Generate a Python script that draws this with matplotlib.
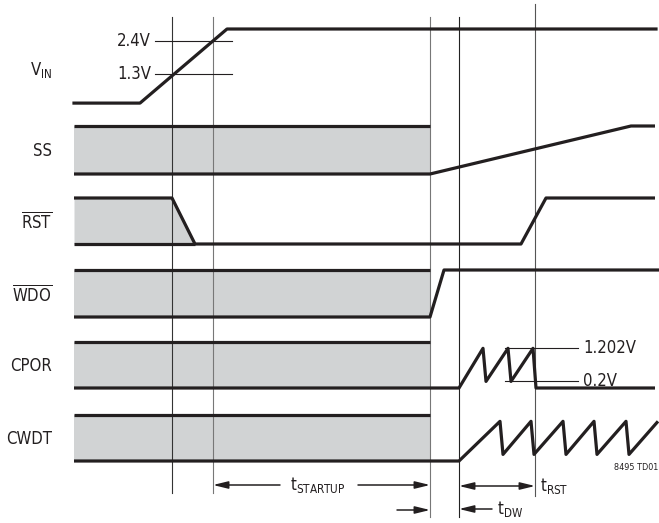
import numpy as np
import matplotlib.pyplot as plt
from matplotlib import font_manager

# pick a narrow sans if one is installed
fonts = font_manager.fontManager.ttflist
names = {f.name for f in fonts}
if 'Liberation Sans Narrow' in names:
    fam, stretch = 'Liberation Sans Narrow', 'normal'
elif any(f.name == 'DejaVu Sans' and f.stretch in ('condensed', 'semi-condensed') for f in fonts):
    fam, stretch = 'DejaVu Sans', 'condensed'
else:
    fam, stretch = 'Liberation Sans', 'normal'
plt.rcParams['font.family'] = [fam, 'DejaVu Sans']
plt.rcParams['font.stretch'] = stretch
plt.rcParams['mathtext.fontset'] = 'custom'
plt.rcParams['mathtext.rm'] = f'{fam}:stretch={stretch}'
plt.rcParams['mathtext.it'] = f'{fam}:stretch={stretch}'

# waveform data (time in arbitrary units, levels in V or normalised 0..1)
t_start = 74          # left edge of every trace
t_por = 430           # end of the undefined (grey) region
t_events = [172, 213, 430, 459, 535]

t_vin = [74, 140, 227, 656]
v_vin = [0.33, 0.33, 2.8, 2.8]
vin_marks = [2.4, 1.3]
vin_mark_labels = ['2.4V', '1.3V']

t_ss = [430, 631, 655]
v_ss = [0, 1, 1]

t_rst = [74, 172, 195, 521, 546, 655]
v_rst = [1, 1, 0, 0, 1, 1]

t_wdo = [430, 444, 659]
v_wdo = [0, 1, 1]

t_cpor = [430, 459, 483, 486, 508, 511, 533, 536, 655]
v_cpor = [0, 0, 1.202, 0.2, 1.202, 0.2, 1.202, 0, 0]
cpor_marks = [1.202, 0.2]
cpor_mark_labels = ['1.202V', '0.2V']

t_cwdt = [430, 459, 500, 503, 531, 534, 563, 566, 594, 597, 626, 629, 658]
v_cwdt = [0, 0, 1.202, 0.2, 1.202, 0.2, 1.202, 0.2, 1.202, 0.2, 1.202, 0.2, 1.202]

# layout: zero-level y, pixels per unit, high level of grey box
rows = {
    'VIN':  dict(base=113, scale=30, high=None),
    'SS':   dict(base=174, scale=48, high=1),
    'RST':  dict(base=244, scale=46, high=1),
    'WDO':  dict(base=317, scale=47, high=1),
    'CPOR': dict(base=388, scale=33, high=1.4),
    'CWDT': dict(base=461, scale=33, high=1.4),
}
labels = {
    'VIN': r'$\mathrm{V_{IN}}$',
    'SS': 'SS',
    'RST': r'$\overline{\mathrm{RST}}$',
    'WDO': r'$\overline{\mathrm{WDO}}$',
    'CPOR': 'CPOR',
    'CWDT': 'CWDT',
}

ink = '#231f20'
grey = '#d1d3d4'
lw_trace = 2.3
lw_thin = 0.8
fs = 12


def ypos(row, v):
    r = rows[row]
    return r['base'] - np.asarray(v, dtype=float) * r['scale']


fig = plt.figure(figsize=(6.59, 5.23), dpi=100)
ax = fig.add_axes([0, 0, 1, 1])
ax.set_xlim(0, 659)
ax.set_ylim(523, 0)
ax.axis('off')

# event markers
vline_ext = [(17, 493, '#333333'), (17, 493, '#777777'), (17, 517, '#777777'),
             (17, 517, '#222222'), (4, 496, '#555555')]
for t, (y0, y1, c) in zip(t_events, vline_ext):
    ax.plot([t, t], [y0, y1], color=c, lw=lw_thin, zorder=2)

# row labels
for name, txt in labels.items():
    r = rows[name]
    if name == 'VIN':
        yc = 70
    else:
        yc = r['base'] - r['high'] * r['scale'] / 2 + 1
    ax.text(52, yc, txt, ha='right', va='center', fontsize=fs, color=ink)

# VIN
ax.plot(t_vin, ypos('VIN', v_vin), color=ink, lw=lw_trace, zorder=3)
for v, lab in zip(vin_marks, vin_mark_labels):
    ax.plot([155, 232], [ypos('VIN', v)] * 2, color=ink, lw=lw_thin, zorder=2)
    ax.text(151, ypos('VIN', v), lab, ha='right', va='center', fontsize=fs, color=ink)

# rows with an undefined region before t_por
for name, tt, vv in [('SS', t_ss, v_ss), ('WDO', t_wdo, v_wdo),
                     ('CPOR', t_cpor, v_cpor), ('CWDT', t_cwdt, v_cwdt)]:
    hi = rows[name]['high']
    ax.fill_between([t_start, t_por], ypos(name, 0), ypos(name, hi),
                    color=grey, lw=0, zorder=1)
    ax.plot([t_start, t_por], [ypos(name, hi)] * 2, color=ink, lw=lw_trace,
            solid_capstyle='butt', zorder=3)
    ax.plot([t_start] + tt, ypos(name, [0] + vv), color=ink, lw=lw_trace,
            solid_capstyle='butt', zorder=3)

# RST
ax.fill_between(t_rst[:3], ypos('RST', 0), ypos('RST', v_rst[:3]),
                color=grey, lw=0, zorder=1)
ax.plot([t_start, t_rst[2]], [ypos('RST', 0)] * 2, color=ink, lw=lw_trace,
        solid_capstyle='butt', zorder=3)
ax.plot(t_rst, ypos('RST', v_rst), color=ink, lw=lw_trace,
        solid_capstyle='butt', zorder=3)

# CPOR thresholds
for v, lab in zip(cpor_marks, cpor_mark_labels):
    ax.plot([505, 578], [ypos('CPOR', v)] * 2, color=ink, lw=lw_thin, zorder=2)
    ax.text(583, ypos('CPOR', v), lab, ha='left', va='center', fontsize=fs, color=ink)

# timing arrows
arr = dict(arrowstyle='-|>,head_length=0.9,head_width=0.22', color=ink, lw=1.1,
           shrinkA=0, shrinkB=0)
arr2 = dict(arrowstyle='<|-|>,head_length=0.9,head_width=0.22', color=ink, lw=1.1,
            shrinkA=0, shrinkB=0)
ax.annotate('', xy=(t_events[1], 485), xytext=(280, 485), arrowprops=arr)
ax.annotate('', xy=(t_por, 485), xytext=(358, 485), arrowprops=arr)
ax.text(318, 485, r'$\mathrm{t_{STARTUP}}$', ha='center', va='center', fontsize=fs, color=ink)
ax.annotate('', xy=(t_por, 510), xytext=(397, 510), arrowprops=arr)

ax.annotate('', xy=(t_events[3], 486), xytext=(t_events[4], 486), arrowprops=arr2)
ax.text(540, 486, r'$\mathrm{t_{RST}}$', ha='left', va='center', fontsize=fs, color=ink)
ax.annotate('', xy=(t_events[3], 509), xytext=(492, 509), arrowprops=arr)
ax.text(497, 509, r'$\mathrm{t_{DW}}$', ha='left', va='center', fontsize=fs, color=ink)

ax.text(658, 467, '8495 TD01', ha='right', va='center', fontsize=6.5, color=ink)

fig.savefig('out.png', dpi=100)
